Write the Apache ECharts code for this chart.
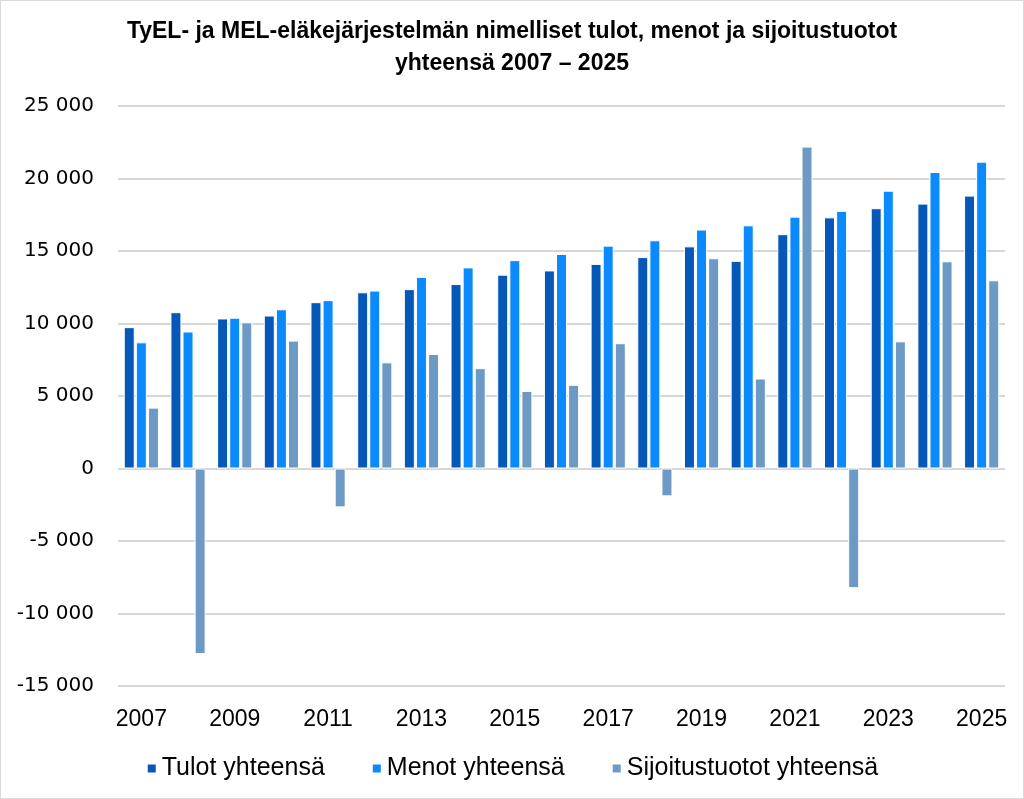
<!DOCTYPE html>
<html lang="fi">

<head>
    <meta charset="UTF-8" />
    <title>TyEL- ja MEL-eläkejärjestelmän tulot, menot ja sijoitustuotot</title>
    <script src="https://cdn.jsdelivr.net/npm/echarts@6/dist/echarts.min.js"></script>
    <style>
        html, body { margin: 0; padding: 0; background: #fff; }
        #chart { width: 1022px; height: 797px; border: 1px solid #d9d9d9; }
    </style>
</head>

<body>
    <div id="chart"></div>
    <script type="text/javascript">
        // vuodet
        var years = ['2007', '2008', '2009', '2010', '2011', '2012', '2013', '2014', '2015', '2016',
            '2017', '2018', '2019', '2020', '2021', '2022', '2023', '2024', '2025'];
        // milj. euroa, luettu kuvasta
        var tulot = [9750, 10780, 10350, 10550, 11470, 12150, 12370, 12720, 13370, 13660,
            14110, 14580, 15320, 14320, 16160, 17320, 17950, 18270, 18820];
        var menot = [8700, 9450, 10400, 10980, 11610, 12270, 13210, 13870, 14370, 14800,
            15370, 15740, 16480, 16770, 17370, 17770, 19160, 20450, 21160];
        var sijoitus = [4200, -12800, 10080, 8820, -2680, 7320, 7900, 6920, 5350, 5770,
            8640, -1920, 14500, 6210, 22200, -8250, 8770, 14290, 12980];
        var seriesNames = ['Tulot yhteensä', 'Menot yhteensä', 'Sijoitustuotot yhteensä'];
        var colors = ['#0558b8', '#0a8afc', '#6d9ac4'];

        var sans = '"Liberation Sans", Arial, sans-serif';

        var chart = echarts.init(document.getElementById('chart'));

        function fmt(v) { // 25000 -> "25 000"
            var s = String(Math.abs(v)).replace(/\B(?=(\d{3})+(?!\d))/g, ' ');
            return (v < 0 ? '-' : '') + s;
        }

        var data = [tulot, menot, sijoitus];
        var series = [];
        for (var i = 0; i < seriesNames.length; i++) {
            series.push({
                name: seriesNames[i],
                type: 'bar',
                data: data[i],
                barWidth: 11,
                barGap: '10%',
                itemStyle: {
                    color: colors[i],
                    borderColor: '#ffffff',
                    borderWidth: 1
                }
            });
        }

        var option = {
            animation: false,
            color: colors,
            title: {
                text: 'TyEL- ja MEL-eläkejärjestelmän nimelliset tulot, menot ja sijoitustuotot\nyhteensä 2007 – 2025',
                left: 'center',
                top: 10,
                textStyle: {
                    fontFamily: sans,
                    fontSize: 23,
                    fontWeight: 'bold',
                    color: '#000',
                    lineHeight: 32
                }
            },
            legend: {
                data: seriesNames,
                bottom: 12,
                left: 'center',
                icon: 'rect',
                itemWidth: 10,
                itemHeight: 10,
                itemGap: 46,
                textStyle: {
                    fontFamily: sans,
                    fontSize: 25,
                    color: '#000'
                }
            },
            grid: {
                left: 117,
                right: 18,
                top: 105,
                bottom: 112
            },
            xAxis: {
                type: 'category',
                data: years,
                axisTick: { show: false },
                axisLine: { show: false },
                axisLabel: {
                    interval: 1,
                    margin: 22,
                    fontFamily: sans,
                    fontSize: 23,
                    color: '#000'
                }
            },
            yAxis: {
                type: 'value',
                min: -15000,
                max: 25000,
                interval: 5000,
                axisLine: { show: false },
                axisTick: { show: false },
                axisLabel: {
                    margin: 24,
                    fontFamily: '"DejaVu Sans", Verdana, sans-serif',
                    fontSize: 20,
                    color: '#000',
                    formatter: fmt
                },
                splitLine: {
                    lineStyle: { color: '#c8c8c8', width: 1.5 }
                }
            },
            series: series
        };

        chart.setOption(option, true);
    </script>
</body>

</html>
